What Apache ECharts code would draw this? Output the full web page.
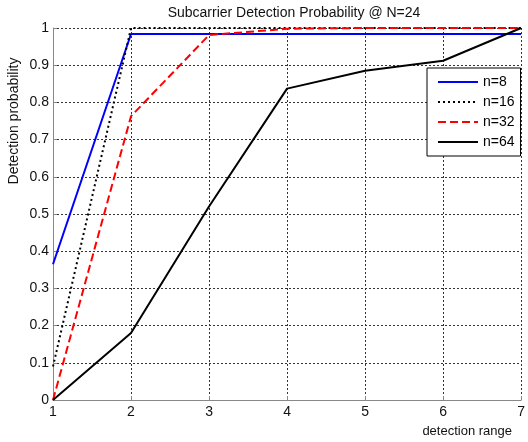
<!DOCTYPE html>
<html>
<head>
<meta charset="utf-8">
<script src="https://cdn.jsdelivr.net/npm/echarts@6/dist/echarts.min.js"></script>
<style>html,body{margin:0;padding:0;background:#fff;}#c{width:528px;height:442px;}</style>
</head>
<body>
<div id="c"></div>
<script>
var detectionRange = [1, 2, 3, 4, 5, 6, 7];
var n8  = [0.365, 0.984, 0.984, 0.984, 0.984, 0.984, 0.984];
var n16 = [0.09, 1.0, 1.0, 1.0, 1.0, 1.0, 1.0];
var n32 = [0.0, 0.763, 0.981, 0.998, 1.0, 1.0, 1.0];
var n64 = [0.0, 0.18, 0.52, 0.837, 0.885, 0.912, 1.0];
var seriesNames = ['n=8', 'n=16', 'n=32', 'n=64'];
var titleText = 'Subcarrier Detection Probability @ N=24';
var xLabel = 'detection range';
var yLabel = 'Detection probability';

function pairs(ys) { return detectionRange.map(function (x, i) { return [x, ys[i]]; }); }

var FONT = 'Liberation Sans, Arial, Helvetica, sans-serif';
var chart = echarts.init(document.getElementById('c'), null, {renderer: 'canvas'});
chart.setOption({
  backgroundColor: '#fff',
  animation: false,
  title: {
    text: titleText, left: 289, top: 1, textAlign: 'center',
    textStyle: {fontSize: 14, fontWeight: 'normal', color: '#111', fontFamily: FONT}
  },
  grid: {left: 53, right: 3, top: 28, bottom: 42, containLabel: false},
  legend: {
    orient: 'vertical', left: 427, top: 68,
    padding: [7, 6, 7, 10], itemGap: 6, itemWidth: 40, itemHeight: 14,
    borderColor: '#000', borderWidth: 1, backgroundColor: '#fff',
    itemStyle: {opacity: 0},
    textStyle: {fontSize: 14, color: '#000', fontFamily: FONT},
    data: seriesNames
  },
  xAxis: {
    type: 'value', min: 1, max: 7, interval: 1,
    axisLine: {show: true, lineStyle: {color: '#888', width: 1}},
    axisTick: {show: true, inside: true, length: 4, lineStyle: {color: '#888'}},
    axisLabel: {fontSize: 14, color: '#111', fontFamily: FONT, margin: 5},
    splitLine: {show: true, lineStyle: {color: '#333', width: 1, type: [2, 2]}}
  },
  yAxis: {
    type: 'value', min: 0, max: 1, interval: 0.1,
    axisLine: {show: true, lineStyle: {color: '#888', width: 1}},
    axisTick: {show: true, inside: true, length: 4, lineStyle: {color: '#888'}},
    axisLabel: {fontSize: 14, color: '#111', fontFamily: FONT, margin: 4,
      formatter: function (v) { return String(+v.toFixed(1)); }},
    splitLine: {show: true, lineStyle: {color: '#333', width: 1, type: [2, 2]}}
  },
  graphic: [
    {type: 'text', x: 14, y: 121, rotation: Math.PI / 2,
      style: {text: yLabel, fontSize: 14, fontFamily: FONT, fill: '#111', align: 'center', verticalAlign: 'middle'}},
    {type: 'text', x: 512, y: 431,
      style: {text: xLabel, fontSize: 13, fontFamily: FONT, fill: '#111', align: 'right', verticalAlign: 'middle'}}
  ],
  series: [
    {name: seriesNames[0], type: 'line', data: pairs(n8), symbol: 'none', clip: false,
      lineStyle: {color: '#0000ff', width: 2}, itemStyle: {color: '#0000ff'}},
    {name: seriesNames[1], type: 'line', data: pairs(n16), symbol: 'none', clip: false,
      lineStyle: {color: '#000', width: 2, type: [2, 3]}, itemStyle: {color: '#000'}},
    {name: seriesNames[2], type: 'line', data: pairs(n32), symbol: 'none', clip: false,
      lineStyle: {color: '#ff0000', width: 2, type: [8, 4]}, itemStyle: {color: '#ff0000'}},
    {name: seriesNames[3], type: 'line', data: pairs(n64), symbol: 'none', clip: false,
      lineStyle: {color: '#000', width: 2}, itemStyle: {color: '#000'}}
  ]
});
</script>
</body>
</html>
